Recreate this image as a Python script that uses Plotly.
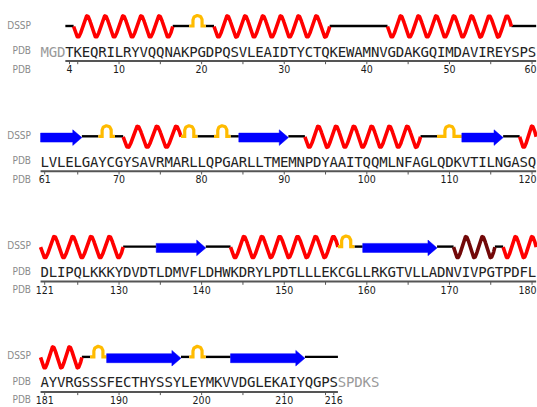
import numpy as np
import plotly.graph_objects as go

# ---------------- data ----------------
sequence = ("MGDTKEQRILRYVQQNAKPGDPQSVLEAIDTYCTQKEWAMNVGDAKGQIMDAVIREYSPS"
            "LVLELGAYCGYSAVRMARLLQPGARLLTMEMNPDYAAITQQMLNFAGLQDKVTILNGASQ"
            "DLIPQLKKKYDVDTLDMVFLDHWKDRYLPDTLLLEKCGLLRKGTVLLADNVIVPGTPDFL"
            "AYVRGSSSFECTHYSSYLEYMKVVDGLEKAIYQGPSSPDKS")
first_observed = 4
last_observed = 216
residues_per_row = 60

helix_ranges = [(5, 16), (22, 35), (43, 57), (71, 77), (93, 106),
                (119, 130), (144, 156), (177, 185)]
pi_helix_ranges = [(171, 175)]
turn_ranges = [(19, 20), (68, 69), (78, 79), (82, 83), (109, 111),
               (157, 158), (187, 188), (199, 200)]
strand_ranges = [(61, 65), (85, 90), (112, 116), (135, 140), (160, 168),
                 (189, 197), (204, 212)]

track_labels = ["DSSP", "PDB", "PDB"]

# ---------------- layout helpers ----------------
PAGE_W, PAGE_H = 537, 407
BODY_MARGIN = 0            # body margin removed by post_script below
W, H = PAGE_W - BODY_MARGIN, PAGE_H - BODY_MARGIN
PX_PER_RES = 8.26
COL1_PX = 44.7             # screen x of column 1
X0 = 1 - (COL1_PX - BODY_MARGIN) / PX_PER_RES
X1 = X0 + W / PX_PER_RES

ROW_STEP = 110.3
DSSP_Y = 26.5
SEQ_Y = 53.0
AXIS_Y = 61.0
TICKLAB_Y = 70.5
LABEL_YS = [26.0, 51.5, 70.0]

HELIX_COLOR = "#ff0000"
PI_COLOR = "#720808"
TURN_COLOR = "#ffbb00"
STRAND_COLOR = "#0000ff"
COIL_COLOR = "#000000"
SMALL_FONT = "DejaVu Sans Condensed, DejaVu Sans"

n_res = len(sequence)
n_rows = (n_res + residues_per_row - 1) // residues_per_row


def row_col(r):
    return (r - 1) // residues_per_row, (r - 1) % residues_per_row + 1


def px_to_x(px):
    return X0 + (px - BODY_MARGIN) / PX_PER_RES


# secondary structure assignment per residue
ss = {}
for r in range(first_observed, last_observed + 1):
    ss[r] = "C"
for a, b in helix_ranges:
    for r in range(a, b + 1):
        ss[r] = "H"
for a, b in pi_helix_ranges:
    for r in range(a, b + 1):
        ss[r] = "I"
for a, b in turn_ranges:
    for r in range(a, b + 1):
        ss[r] = "T"
for a, b in strand_ranges:
    for r in range(a, b + 1):
        ss[r] = "E"

# runs per row
runs = []  # (type, row, col_start, col_end, is_true_end)
for row in range(n_rows):
    lo = max(first_observed, row * residues_per_row + 1)
    hi = min(last_observed, (row + 1) * residues_per_row)
    if lo > hi:
        continue
    r = lo
    while r <= hi:
        t = ss[r]
        s = r
        while r + 1 <= hi and ss[r + 1] == t:
            r += 1
        true_end = (r + 1 > last_observed) or ss.get(r + 1) != t
        runs.append((t, row, row_col(s)[1], row_col(r)[1], true_end))
        r += 1

fig = go.Figure()

AMP = 10.5
PERIOD = 2.215  # residues per wave period


def add_line(xs, ys, color, width):
    fig.add_trace(go.Scatter(x=xs, y=ys, mode="lines", cliponaxis=False,
                             line=dict(color=color, width=width, shape="linear"),
                             hoverinfo="skip", showlegend=False))


# coils first
cx, cy = [], []
for t, row, cs, ce, te in runs:
    if t == "C":
        base = DSSP_Y + row * ROW_STEP - 0.5
        cx += [cs - 0.5, ce + 0.5, None]
        cy += [base, base, None]
add_line(cx, cy, COIL_COLOR, 2.4)

for t, row, cs, ce, te in runs:
    base = DSSP_Y + row * ROW_STEP
    xs, xe = cs - 0.5, ce + 0.5
    if t in ("H", "I"):
        L = xe - xs
        k = max(1, int(round(2 * L / PERIOD)))
        tt = np.linspace(0, 1, 30 * k + 1)
        x = xs + tt * L
        y = base + AMP * np.sin(np.pi * k * tt)
        add_line(list(x), list(y), HELIX_COLOR if t == "H" else PI_COLOR, 3.6)
    elif t == "T":
        mc = (xs + xe) / 2
        hw = 0.55
        rpx = 4.5
        hgt = 10.5
        ang = np.linspace(np.pi, 0, 25)
        ax = list(mc + hw * np.cos(ang))
        ay = list(base - 0.5 - (hgt - rpx) - rpx * np.sin(ang))
        x = [xs, mc - hw] + ax + [mc + hw, xe]
        y = [base - 0.5, base - 0.5] + ay + [base - 0.5, base - 0.5]
        add_line(x, y, TURN_COLOR, 3.2)
    elif t == "E":
        yc = base + 0.8
        hb, hh, hl = 4.5, 7.8, 1.1
        if te:
            x = [xs, xe - hl, xe - hl, xe, xe - hl, xe - hl, xs, xs]
            y = [yc - hb, yc - hb, yc - hh, yc, yc + hh, yc + hb, yc + hb, yc - hb]
        else:
            x = [xs, xe, xe, xs, xs]
            y = [yc - hb, yc - hb, yc + hb, yc + hb, yc - hb]
        fig.add_trace(go.Scatter(x=x, y=y, mode="lines", fill="toself",
                                 fillcolor=STRAND_COLOR, cliponaxis=False,
                                 line=dict(color=STRAND_COLOR, width=0.5),
                                 hoverinfo="skip", showlegend=False))

# sequence letters
sx, sy, st, sc = [], [], [], []
for i, ch in enumerate(sequence):
    r = i + 1
    row, col = row_col(r)
    sx.append(col)
    sy.append(SEQ_Y + row * ROW_STEP)
    st.append(ch)
    sc.append("#222222" if first_observed <= r <= last_observed else "#9a9a9a")
fig.add_trace(go.Scatter(x=sx, y=sy, text=st, mode="text", cliponaxis=False,
                         textposition="middle center",
                         textfont=dict(family="DejaVu Sans Mono", size=14, color=sc),
                         hoverinfo="skip", showlegend=False))

# residue axis lines, ticks and labels
lx, ly, tx, ty = [], [], [], []
labx, laby, labt = [], [], []      # centred labels
rlabx, rlaby, rlabt = [], [], []   # labels at the right edge (right-aligned)
for row in range(n_rows):
    lo = max(first_observed, row * residues_per_row + 1)
    hi = min(last_observed, (row + 1) * residues_per_row)
    if lo > hi:
        continue
    yl = AXIS_Y + row * ROW_STEP
    lx += [row_col(lo)[1] - 0.5, row_col(hi)[1] + 0.5, None]
    ly += [yl, yl, None]
    for r in range(lo, hi + 1):
        c = row_col(r)[1]
        if r % 5 == 0 or r == lo or r == last_observed:
            tx += [c, c, None]
            ty += [yl, yl + 3.2, None]
        if r % 10 == 0 or r == lo or r == last_observed:
            if c == residues_per_row:
                rlabx.append(px_to_x(PAGE_W - 0.5))
                rlaby.append(TICKLAB_Y + row * ROW_STEP)
                rlabt.append(str(r))
            else:
                labx.append(c)
                laby.append(TICKLAB_Y + row * ROW_STEP)
                labt.append(str(r))
add_line(lx, ly, "#555555", 2.0)
add_line(tx, ty, "#555555", 1.0)
fig.add_trace(go.Scatter(x=labx, y=laby, text=labt, mode="text", cliponaxis=False,
                         textposition="middle center",
                         textfont=dict(family=SMALL_FONT, size=10.5, color="#1a1a1a"),
                         hoverinfo="skip", showlegend=False))
fig.add_trace(go.Scatter(x=rlabx, y=rlaby, text=rlabt, mode="text", cliponaxis=False,
                         textposition="middle left",
                         textfont=dict(family=SMALL_FONT, size=10.5, color="#1a1a1a"),
                         hoverinfo="skip", showlegend=False))

# left track labels
gx, gy, gt = [], [], []
for row in range(n_rows):
    for lab, yy in zip(track_labels, LABEL_YS):
        gx.append(px_to_x(31))
        gy.append(yy + row * ROW_STEP)
        gt.append(lab)
fig.add_trace(go.Scatter(x=gx, y=gy, text=gt, mode="text", cliponaxis=False,
                         textposition="middle left",
                         textfont=dict(family=SMALL_FONT, size=10, color="#8a8a8a"),
                         hoverinfo="skip", showlegend=False))

fig.update_layout(
    width=W, height=H,
    margin=dict(l=0, r=0, t=0, b=0),
    paper_bgcolor="white", plot_bgcolor="white",
    xaxis=dict(range=[X0, X1], visible=False, fixedrange=True),
    yaxis=dict(range=[PAGE_H, BODY_MARGIN], visible=False, fixedrange=True),
    showlegend=False,
    hovermode=False,
)
fig.write_html("out.html",
               config={"displayModeBar": False, "staticPlot": True},
               post_script="document.body.style.margin='0px';"
                           "document.body.style.overflow='hidden';")
